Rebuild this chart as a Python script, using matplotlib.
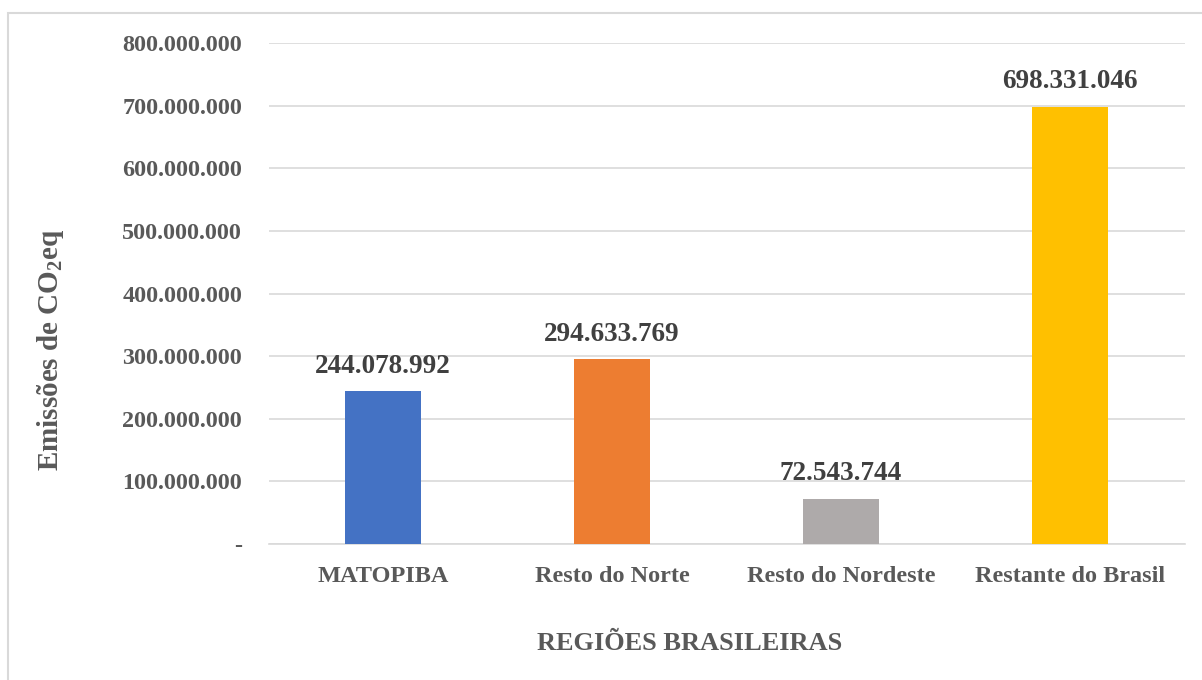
import matplotlib
matplotlib.use("Agg")
import matplotlib.pyplot as plt
from matplotlib.patches import Rectangle

categories = ["MATOPIBA", "Resto do Norte", "Resto do Nordeste", "Restante do Brasil"]
values = [244078992, 294633769, 72543744, 698331046]
colors = ["#4472C4", "#ED7D31", "#AEAAAA", "#FFC000"]
yticks = [0, 100000000, 200000000, 300000000, 400000000, 500000000, 600000000, 700000000, 800000000]

def fmt(v):
    if v == 0:
        return "-"
    return f"{v:,.0f}".replace(",", ".")

plt.rcParams['font.family'] = ['Liberation Serif', 'DejaVu Serif']
plt.rcParams['font.weight'] = 'bold'

fig = plt.figure(figsize=(12.02, 6.8), dpi=100)
ax = fig.add_axes([268.5/1202, 1-544/680, (1184.5-268.5)/1202, (544-43)/680])

# figure border (top and left visible)
fig.patches.append(Rectangle((8/1202, -0.1), 1.2, (680-13)/680 + 0.1, transform=fig.transFigure,
                             fill=False, edgecolor="#D9D9D9", linewidth=1.5, zorder=-1))

x = range(len(categories))
bars = ax.bar(x, values, width=0.336, color=colors, zorder=3)
for xi, v in zip(x, values):
    ax.annotate(fmt(v), (xi, v), xytext=(0, 9), textcoords="offset points",
                ha="center", va="bottom", fontsize=19.5, fontweight="bold", color="#404040")

ax.set_xlim(-0.5, len(categories)-0.5)
ax.set_ylim(0, 800000000)
ax.set_yticks(yticks)
ax.set_yticklabels([fmt(v) for v in yticks])
ax.set_xticks(list(x))
ax.set_xticklabels(categories)
ax.tick_params(axis="y", length=0, pad=19, labelsize=17.4, labelcolor="#595959")
ax.tick_params(axis="x", length=0, pad=16, labelsize=17.5, labelcolor="#595959")
for lab in ax.get_xticklabels() + ax.get_yticklabels():
    lab.set_fontweight("bold")

ax.grid(axis="y", color="#D9D9D9", linewidth=1.2, zorder=0)
for s in ["top", "right", "left"]:
    ax.spines[s].set_visible(False)
ax.spines["bottom"].set_color("#D9D9D9")
ax.spines["bottom"].set_linewidth(1.2)

fig.text(690/1202, 1-643/680, "REGIÕES BRASILEIRAS", ha="center", va="center",
         fontsize=19, fontweight="bold", color="#595959")
fig.text(50/1202, 1-350/680, r"Emissões de CO$_\mathregular{2}$eq", rotation=90, ha="center", va="center",
         fontsize=21, fontweight="bold", color="#595959")

fig.savefig("out.png", dpi=100)
